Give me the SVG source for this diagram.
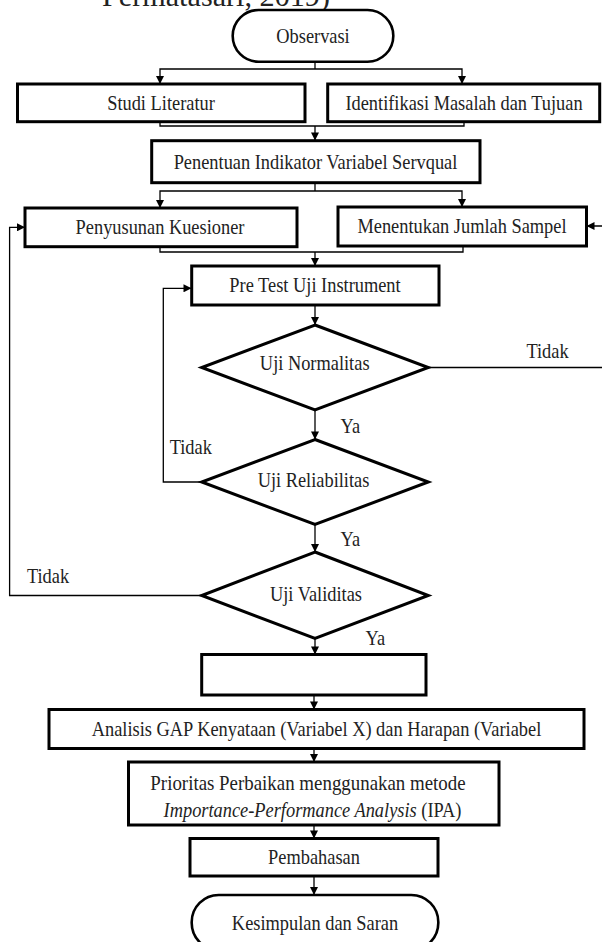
<svg xmlns="http://www.w3.org/2000/svg" width="602" height="942" viewBox="0 0 602 942">
<defs>
<style>
.box{fill:#fff;stroke:#000;stroke-width:3}
.term{fill:#fff;stroke:#000;stroke-width:2.6}
.dia{fill:#fff;stroke:#000;stroke-width:3;stroke-linejoin:miter}
.con{fill:none;stroke:#000;stroke-width:1.3}
.t{font-family:"Liberation Serif","Times New Roman",serif;font-size:21px;fill:#222;text-anchor:middle}
</style>
<marker id="ah" viewBox="0 0 10 10" refX="10" refY="5" markerWidth="9" markerHeight="8" markerUnits="userSpaceOnUse" orient="auto">
<path d="M0,0 L10,5 L0,10 z" fill="#000"/>
</marker>
</defs>
<rect width="602" height="942" fill="#fff"/>
<text x="102" y="6" font-family="Liberation Serif, Times New Roman, serif" font-size="30" fill="#222" textLength="228" lengthAdjust="spacingAndGlyphs">Permatasari, 2019)</text>

<g id="connectors">
<path class="con" d="M315 62 V69"/>
<path class="con" d="M315 69 H160 V84" marker-end="url(#ah)"/>
<path class="con" d="M315 69 H462 V84" marker-end="url(#ah)"/>
<path class="con" d="M160 122 V126 H464 V122"/>
<path class="con" d="M315 126 V140.5" marker-end="url(#ah)"/>
<path class="con" d="M315 183 V191"/>
<path class="con" d="M315 191 H160 V208" marker-end="url(#ah)"/>
<path class="con" d="M315 191 H462 V207" marker-end="url(#ah)"/>
<path class="con" d="M160 247 V252 H463 V246"/>
<path class="con" d="M315 252 V266" marker-end="url(#ah)"/>
<path class="con" d="M315 305 V325" marker-end="url(#ah)"/>
<path class="con" d="M315 410 V439.5" marker-end="url(#ah)"/>
<path class="con" d="M315 524.5 V552" marker-end="url(#ah)"/>
<path class="con" d="M315 638.5 V654.5" marker-end="url(#ah)"/>
<path class="con" d="M314 695 V709.5" marker-end="url(#ah)"/>
<path class="con" d="M314 748.5 V762" marker-end="url(#ah)"/>
<path class="con" d="M314 825 V838.5" marker-end="url(#ah)"/>
<path class="con" d="M314 876 V895" marker-end="url(#ah)"/>
<path class="con" d="M201.7 482 H163.3 V288.3 H191.5" marker-end="url(#ah)"/>
<path class="con" d="M201.7 595.5 H9.6 V227.3 H25" marker-end="url(#ah)"/>
<path class="con" d="M428.3 367.5 H606 V226 H586.5" marker-end="url(#ah)"/>
</g>

<g id="observasi">
<rect class="term" x="232.7" y="10" width="160.6" height="51.7" rx="25.8"/>
<text class="t" transform="translate(313,43) scale(0.875,1)">Observasi</text>
</g>
<g id="studi-literatur">
<rect class="box" x="17.5" y="84" width="287.5" height="37.7"/>
<text class="t" transform="translate(161,110) scale(0.875,1)">Studi Literatur</text>
</g>
<g id="identifikasi">
<rect class="box" x="327.7" y="84" width="272" height="37.7"/>
<text class="t" transform="translate(464,110) scale(0.875,1)">Identifikasi Masalah dan Tujuan</text>
</g>
<g id="penentuan">
<rect class="box" x="151.7" y="140.7" width="328.3" height="42"/>
<text class="t" transform="translate(315.5,169) scale(0.875,1)">Penentuan Indikator Variabel Servqual</text>
</g>
<g id="penyusunan">
<rect class="box" x="25" y="208" width="272" height="38.7"/>
<text class="t" transform="translate(160,234) scale(0.875,1)">Penyusunan Kuesioner</text>
</g>
<g id="menentukan">
<rect class="box" x="338" y="207" width="248.5" height="39"/>
<text class="t" transform="translate(462,232.5) scale(0.875,1)">Menentukan Jumlah Sampel</text>
</g>
<g id="pretest">
<rect class="box" x="191.7" y="266" width="247.3" height="39"/>
<text class="t" transform="translate(315,291.5) scale(0.875,1)">Pre Test Uji Instrument</text>
</g>
<g id="normalitas">
<polygon class="dia" points="315,325 428.3,367.5 315,410 201.7,367.5"/>
<text class="t" transform="translate(314.7,370) scale(0.875,1)">Uji Normalitas</text>
</g>
<g id="reliabilitas">
<polygon class="dia" points="315,439.5 428.3,482 315,524.5 201.7,482"/>
<text class="t" transform="translate(313.5,486.5) scale(0.875,1)">Uji Reliabilitas</text>
</g>
<g id="validitas">
<polygon class="dia" points="315,552 428.3,595.5 315,638.5 201.7,595.5"/>
<text class="t" transform="translate(316,600.5) scale(0.875,1)">Uji Validitas</text>
</g>
<g id="empty-box">
<rect class="box" x="201.7" y="654.5" width="224.3" height="40.5"/>
</g>
<g id="analisis-gap">
<rect class="box" x="49" y="709.5" width="535" height="39"/>
<text class="t" transform="translate(316.5,736) scale(0.875,1)">Analisis GAP Kenyataan (Variabel X) dan Harapan (Variabel</text>
</g>
<g id="prioritas">
<rect class="box" x="128.5" y="762" width="370.5" height="63"/>
<text class="t" transform="translate(308,789.5) scale(0.9,1)">Prioritas Perbaikan menggunakan metode</text>
<text class="t" transform="translate(312.5,817) scale(0.875,1)"><tspan font-style="italic">Importance-Performance Analysis</tspan> (IPA)</text>
</g>
<g id="pembahasan">
<rect class="box" x="190" y="838.5" width="248" height="37.5"/>
<text class="t" transform="translate(314,864) scale(0.875,1)">Pembahasan</text>
</g>
<g id="kesimpulan">
<rect class="term" x="191.7" y="895" width="246.6" height="55" rx="27"/>
<text class="t" transform="translate(315,929.5) scale(0.875,1)">Kesimpulan dan Saran</text>
</g>

<g id="labels">
<text class="t" transform="translate(547.5,358) scale(0.875,1)">Tidak</text>
<text class="t" transform="translate(350.3,432.5) scale(0.875,1)">Ya</text>
<text class="t" transform="translate(190.8,454) scale(0.875,1)">Tidak</text>
<text class="t" transform="translate(350.3,546) scale(0.875,1)">Ya</text>
<text class="t" transform="translate(48,583) scale(0.875,1)">Tidak</text>
<text class="t" transform="translate(375.3,645) scale(0.875,1)">Ya</text>
</g>
</svg>
